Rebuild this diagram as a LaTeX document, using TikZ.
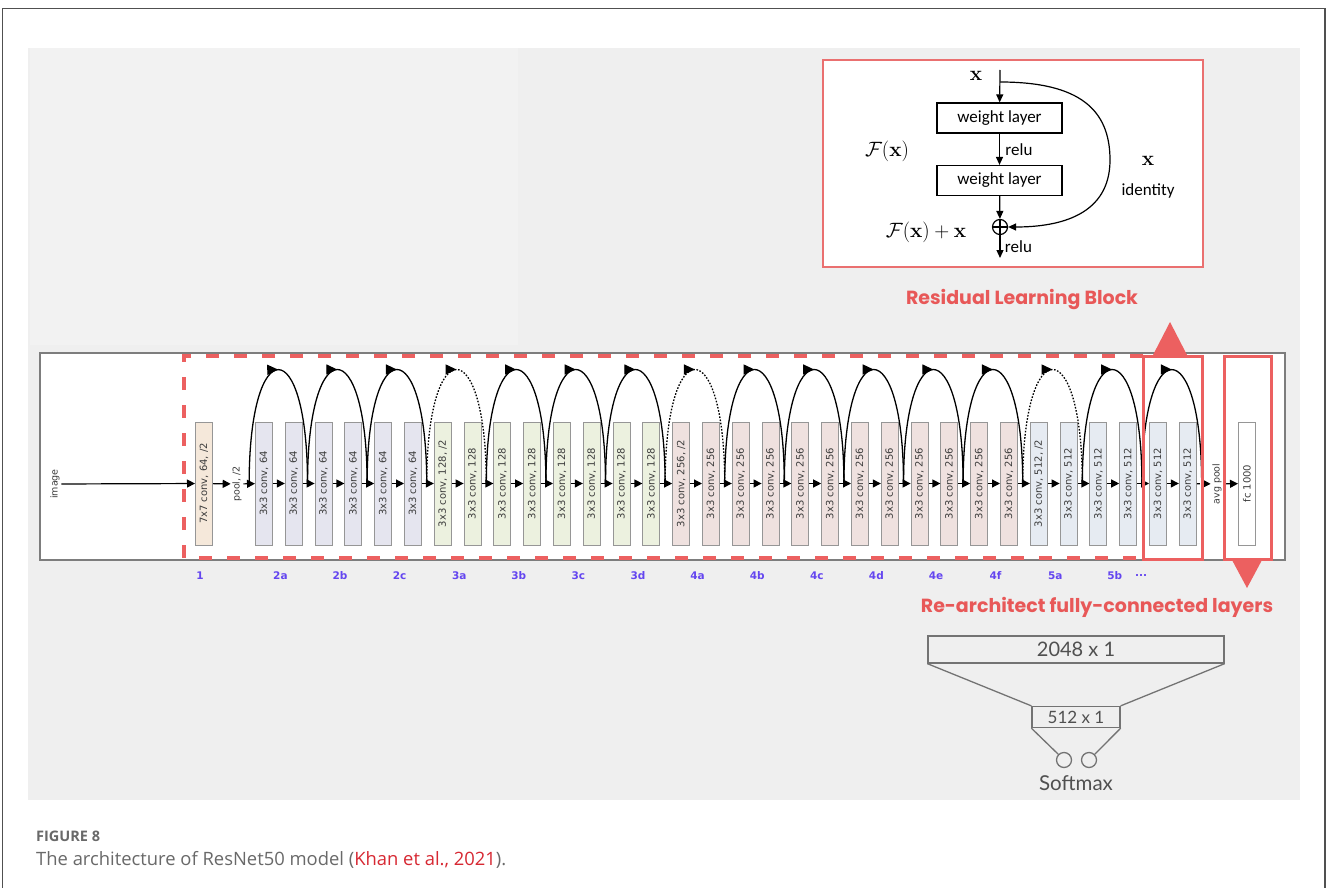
\documentclass[tikz,border=0pt]{standalone}
\usepackage[no-math]{fontspec}
\usepackage{graphicx}
\setmainfont{Open Sans}
\newfontfamily\convfont{DejaVu Sans}
\newfontfamily\wlfont{Carlito}
\newfontfamily\headfont{Poppins}
\newfontfamily\fcfont{Lato}
\usetikzlibrary{arrows.meta,decorations.markings,calc}

\definecolor{redc}{RGB}{236,96,96}
\definecolor{redframe}{RGB}{234,112,112}
\definecolor{headred}{RGB}{232,88,88}
\definecolor{panel}{RGB}{239,239,239}
\definecolor{panellight}{RGB}{242,242,242}
\definecolor{framegray}{RGB}{80,80,80}
\definecolor{stripline}{RGB}{125,125,125}
\definecolor{convline}{RGB}{150,150,150}
\definecolor{convtext}{RGB}{60,60,60}
\definecolor{stA}{RGB}{245,232,218}
\definecolor{stB}{RGB}{229,229,239}
\definecolor{stC}{RGB}{236,241,223}
\definecolor{stD}{RGB}{239,225,223}
\definecolor{stE}{RGB}{230,235,242}
\definecolor{stagefg}{RGB}{100,70,240}
\definecolor{fcgray}{RGB}{115,115,115}
\definecolor{fctext}{RGB}{80,80,80}
\definecolor{captgray}{RGB}{105,105,105}
\definecolor{citered}{RGB}{215,40,50}

\begin{document}
\begin{tikzpicture}[x=1pt, y=-1pt,
  conv/.style={draw=convline, line width=1pt, minimum width=17pt, minimum height=123pt,
               inner sep=0pt, text=convtext, font=\convfont\fontsize{10}{11}\selectfont},
  vlabel/.style={inner sep=1.5pt, text=convtext, font=\convfont\fontsize{9.5}{10}\selectfont},
  stage/.style={text=stagefg, font=\convfont\bfseries\fontsize{10.5}{11}\selectfont},
  flow/.style={-{Triangle[length=8pt,width=8pt]}, line width=1.2pt},
  skip/.style={line width=1.3pt, postaction={decorate},
               decoration={markings, mark=at position 0.5 with {\arrow{Triangle[length=11pt,width=10pt]}}}},
  proj/.style={skip, dash pattern=on 1.6pt off 1.6pt},
  wbox/.style={draw, line width=1.2pt, minimum width=125pt, minimum height=30pt,
               font=\wlfont\fontsize{17}{18}\selectfont},
  rarr/.style={-{Triangle[length=8pt,width=7pt]}, line width=1.2pt},
  rtext/.style={font=\wlfont\fontsize{17}{18}\selectfont},
  mtext/.style={font=\fontsize{21}{23}\selectfont},
  head/.style={text=headred, font=\headfont\bfseries\fontsize{19}{21}\selectfont},
  fcbox/.style={draw=fcgray, line width=1.3pt, text=fctext},
  redbox/.style={draw=redc, line width=3pt},
]
  \useasboundingbox (0,0) rectangle (1327,888);
  \fill[white] (0,0) rectangle (1327,888);
  \draw[framegray, line width=1.5pt] (2.5,888) -- (2.5,8.5) -- (1325,8.5) -- (1325,888);
  \fill[panel] (28,48) rectangle (1300,800);
  \fill[panellight] (30,48) rectangle (518,345);

  % network strip
  \draw[stripline, line width=1.2pt, fill=white] (40,353) rectangle (1285,560);
  \node[vlabel] (img) at (55,484) {\rotatebox{90}{image}};
  \node[conv, fill=stA] (conv1) at (204,483.5) {\rotatebox{90}{7x7 conv, 64, /2}};
  \node[vlabel] (pool) at (237,484) {\rotatebox{90}{pool, /2}};
  \foreach \i/\lbl/\fl in {0/64/stB,1/64/stB,2/64/stB,3/64/stB,4/64/stB,5/64/stB,
      6/{128, /2}/stC,7/128/stC,8/128/stC,9/128/stC,10/128/stC,11/128/stC,12/128/stC,13/128/stC,
      14/{256, /2}/stD,15/256/stD,16/256/stD,17/256/stD,18/256/stD,19/256/stD,20/256/stD,
      21/256/stD,22/256/stD,23/256/stD,24/256/stD,25/256/stD,
      26/{512, /2}/stE,27/512/stE,28/512/stE,29/512/stE,30/512/stE,31/512/stE}
    \node[conv, fill=\fl] (c\i) at ({264+29.8*\i},483.5) {\rotatebox{90}{3x3 conv, \lbl}};
  \node[vlabel] (avgp) at (1217,484) {\rotatebox{90}{avg pool}};
  \node[conv, fill=white] (fc) at (1247,483.5) {\rotatebox{90}{fc 1000}};

  % main flow
  \draw[flow] (img) -- (conv1);
  \draw[flow] (conv1) -- (pool);
  \draw[flow] (pool) -- (c0);
  \foreach \i [evaluate=\i as \j using int(\i+1)] in {0,...,30}
    \draw[flow] (c\i) -- (c\j);
  \draw[flow, dash pattern=on 3pt off 3pt] (c31) -- (avgp);
  \draw[flow] (avgp) -- (fc);

  % shortcut arcs
  \coordinate (j0) at ($(pool.east)!0.5!(c0.west)$);
  \foreach \k [evaluate=\k as \a using int(2*\k-1), evaluate=\k as \b using int(2*\k)] in {1,...,15}
    \coordinate (j\k) at ($(c\a.east)!0.4!(c\b.west)$);
  \coordinate (j16) at ($(c31.east)!0.35!(avgp.west)$);
  \foreach \k [evaluate=\k as \n using int(\k+1)] in {0,1,2,4,5,6,8,9,10,11,12,14,15}
    \draw[skip] (j\k) .. controls +(0,-152) and +(0,-152) .. (j\n);
  \foreach \k [evaluate=\k as \n using int(\k+1)] in {3,7,13}
    \draw[proj] (j\k) .. controls +(0,-152) and +(0,-152) .. (j\n);

  % stage names
  \node[stage] (s1) at (200,576) {1};
  \foreach \k/\nm in {0/2a,1/2b,2/2c,3/3a,4/3b,5/3c,6/3d,7/4a,8/4b,9/4c,10/4d,11/4e,12/4f,13/5a,14/5b}
    \node[stage] (s\nm) at ({264+29.8*(2*\k+0.55)},576) {\nm};
  \node[stage] (sdots) at (1141,576) {...};

  % red highlights
  \draw[redc, line width=3.5pt, dash pattern=on 13pt off 15pt] (1143,356) -- (184,356) -- (184,558) -- (1143,558);
  \draw[redbox] (1143,356) rectangle (1202,559);
  \draw[redbox] (1224,356) rectangle (1271,559);
  \fill[redc] (1153,355) -- (1170,322) -- (1187,355) -- cycle;
  \fill[redc] (1232,560) -- (1247,588) -- (1262,560) -- cycle;

  % residual learning block
  \draw[redframe, line width=2.5pt, fill=white] (823,60) rectangle (1203,267);
  \node[mtext] (rx) at (976,76) {$\mathbf{x}$};
  \node[wbox] (wl1) at (999.5,118) {weight layer};
  \node[wbox] (wl2) at (999.5,180.5) {weight layer};
  \node[draw, circle, line width=1.2pt, minimum size=15pt, inner sep=0pt] (plus) at (1000,227) {};
  \draw[line width=1.1pt] (plus.north) -- (plus.south) (plus.west) -- (plus.east);
  \coordinate (xin) at (1000,70);
  \coordinate (xsplit) at (1000,82);
  \coordinate (rout) at (1000,258);
  \draw[rarr] (xin) -- (wl1);
  \draw[rarr] (wl1) -- node[rtext, right, xshift=2pt] {relu} (wl2);
  \draw[rarr] (wl2) -- (plus);
  \draw[rarr] (plus) -- node[rtext, right, xshift=1pt] {relu} (rout);
  \draw[rarr] (xsplit) .. controls (1080,82) and (1110,110) .. (1110,160)
    .. controls (1110,215) and (1060,227) .. (plus.east);
  \node[mtext] (fx) at (887,151) {$\mathcal{F}(\mathbf{x})$};
  \node[mtext] (fxx) at (926,232) {$\mathcal{F}(\mathbf{x})+\mathbf{x}$};
  \node[mtext] (idx) at (1148,161) {$\mathbf{x}$};
  \node[rtext] (idt) at (1148,191) {identity};

  \node[head] (rlb) at (1022,300) {Residual Learning Block};
  \node[head] (rafc) at (1097,607) {Re-architect fully-connected layers};

  % new fully-connected head
  \node[fcbox, minimum width=296pt, minimum height=27pt, font=\fcfont\fontsize{20}{21}\selectfont] (f2048) at (1076,649.5) {2048 x 1};
  \node[fcbox, minimum width=88pt, minimum height=21pt, font=\fcfont\fontsize{17}{18}\selectfont] (f512) at (1076,717) {512 x 1};
  \draw[fcgray, line width=1.3pt] (f2048.south west) -- (f512.north west);
  \draw[fcgray, line width=1.3pt] (f2048.south east) -- (f512.north east);
  \node[draw=fcgray, circle, line width=1.3pt, minimum size=15pt, inner sep=0pt] (sm1) at (1064,760) {};
  \node[draw=fcgray, circle, line width=1.3pt, minimum size=15pt, inner sep=0pt] (sm2) at (1089,760) {};
  \draw[fcgray, line width=1.3pt] (f512.south west) -- (sm1.north west);
  \draw[fcgray, line width=1.3pt] (f512.south east) -- (sm2.north east);
  \node[text=fctext, font=\fcfont\fontsize{20.5}{22}\selectfont] (smx) at (1076,783) {Softmax};

  % caption
  \node[anchor=base west, inner sep=0pt, text=captgray, font=\bfseries\fontsize{14.5}{16}\selectfont] (fig) at (36,841) {FIGURE 8};
  \node[anchor=base west, inner sep=0pt, text=captgray, font=\fontsize{18.4}{20}\selectfont] (cap) at (36,865)
    {The architecture of ResNet50 model (\textcolor{citered}{Khan et al., 2021}).};
\end{tikzpicture}
\end{document}
